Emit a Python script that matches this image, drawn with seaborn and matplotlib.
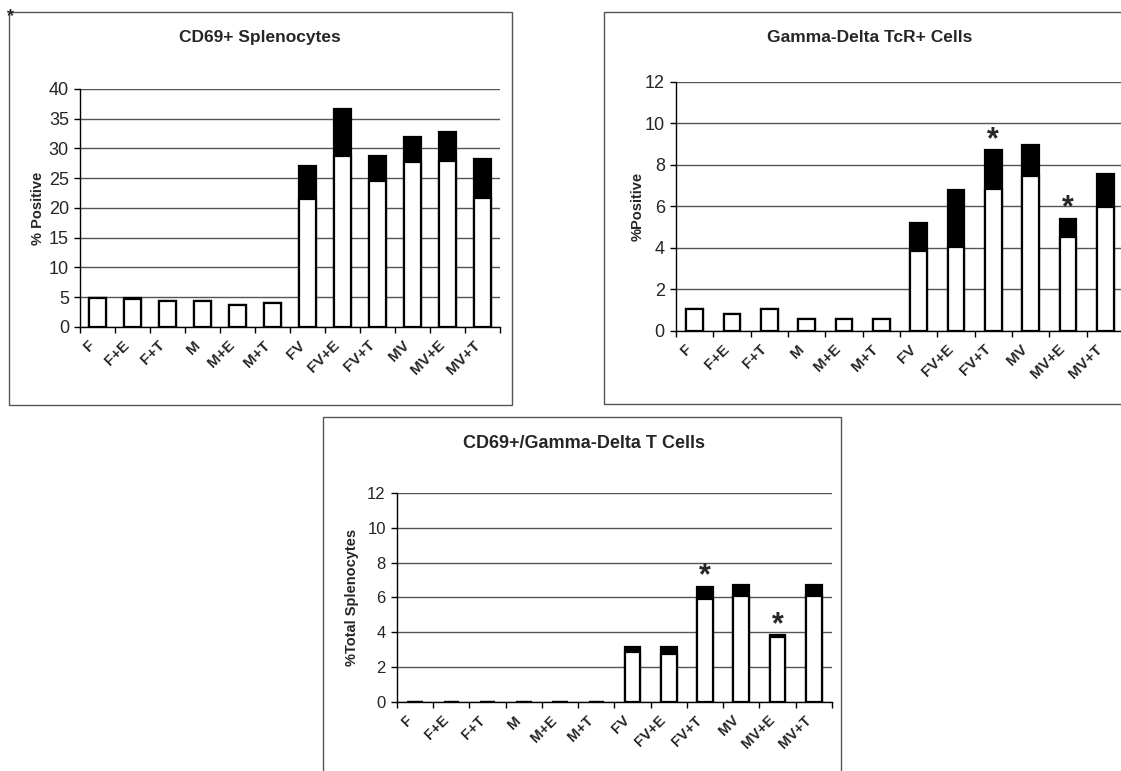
import matplotlib
matplotlib.use("Agg")
import matplotlib.pyplot as plt
import seaborn as sns
import pandas as pd
from matplotlib.patches import Rectangle

categories = ["F", "F+E", "F+T", "M", "M+E", "M+T",
              "FV", "FV+E", "FV+T", "MV", "MV+E", "MV+T"]

cd69_white = [4.9, 4.75, 4.3, 4.3, 3.65, 4.1, 21.5, 28.8, 24.5, 27.8, 27.9, 21.6]
cd69_total = [4.9, 4.85, 4.3, 4.3, 3.65, 4.1, 27.1, 36.7, 28.8, 32.0, 32.8, 28.3]

gd_white = [1.08, 0.8, 1.08, 0.59, 0.59, 0.59, 3.86, 4.07, 6.86, 7.47, 4.55, 5.98]
gd_total = [1.08, 0.8, 1.08, 0.59, 0.59, 0.59, 5.2, 6.78, 8.73, 8.97, 5.41, 7.55]

dbl_white = [0, 0, 0, 0, 0, 0, 2.88, 2.75, 5.89, 6.09, 3.71, 6.09]
dbl_total = [0, 0, 0, 0, 0, 0, 3.13, 3.13, 6.62, 6.72, 3.82, 6.72]

gd_stars = ["FV+T", "MV+E"]
dbl_stars = ["FV+T", "MV+E"]

titles = ["CD69+ Splenocytes", "Gamma-Delta TcR+ Cells", "CD69+/Gamma-Delta T Cells"]
ylabels = ["% Positive", "%Positive", "%Total Splenocytes"]

sns.set_style("white")
plt.rcParams["font.family"] = ["Liberation Sans", "DejaVu Sans"]

fig = plt.figure(figsize=(11.21, 7.71), dpi=100)

# panel frames (figure coordinates)
frames = [
    (0.008, 0.4747, 0.4487, 0.5097),
    (0.5388, 0.476, 0.47, 0.5084),
    (0.2881, -0.01, 0.4621, 0.469),
]
for fx, fy, fw, fh in frames:
    fig.add_artist(Rectangle((fx, fy), fw, fh, transform=fig.transFigure,
                             fill=False, edgecolor="#555555", linewidth=1.0))

axes_pos = [
    (0.0714, 0.5759, 0.3747, 0.3087),
    (0.603, 0.5707, 0.3996, 0.3230),
    (0.3541, 0.0895, 0.3880, 0.2711),
]
title_pos = [(0.232, 0.952), (0.776, 0.952), (0.521, 0.4254)]
title_size = [12.5, 12.5, 13]
ytick_size = [13, 13, 12]
xtick_size = [11, 11, 10.5]
ylabel_x = [-0.083, -0.071, -0.087]
ymax = [40, 12, 12]
ystep = [5, 2, 2]
widths = [0.48, 0.45, 0.43]
panels = [(cd69_white, cd69_total, []),
          (gd_white, gd_total, gd_stars),
          (dbl_white, dbl_total, dbl_stars)]

for i, (white, total, stars) in enumerate(panels):
    ax = fig.add_axes(axes_pos[i])
    df = pd.DataFrame({"group": categories, "white": white, "total": total})
    sns.barplot(data=df, x="group", y="total", order=categories, color="black",
                edgecolor="black", linewidth=1.6, width=widths[i], saturation=1,
                errorbar=None, ax=ax)
    sns.barplot(data=df, x="group", y="white", order=categories, color="white",
                edgecolor="black", linewidth=1.6, width=widths[i], saturation=1,
                errorbar=None, ax=ax)
    ax.set_xlim(-0.5, len(categories) - 0.5)
    ax.set_ylim(0, ymax[i])
    ax.set_yticks(list(range(0, ymax[i] + 1, ystep[i])))
    ax.yaxis.grid(True, color="#555555", linewidth=1.0)
    ax.set_axisbelow(True)
    for s in ["top", "right"]:
        ax.spines[s].set_visible(False)
    for s in ["left", "bottom"]:
        ax.spines[s].set_color("black")
        ax.spines[s].set_linewidth(1.0)
    # ticks at category boundaries, labels at centers
    ax.set_xticks([k - 0.5 for k in range(len(categories) + 1)])
    ax.set_xticklabels([])
    ax.set_xticks(range(len(categories)), minor=True)
    ax.set_xticklabels(categories, minor=True, rotation=45, ha="right",
                       va="top", fontweight="bold", fontsize=xtick_size[i])
    ax.tick_params(axis="x", which="major", direction="out", length=4,
                   width=1, color="black", bottom=True)
    ax.tick_params(axis="x", which="minor", length=0, pad=8)
    ax.tick_params(axis="y", direction="out", length=4, width=1,
                   color="black", left=True, labelsize=ytick_size[i], pad=4)
    ax.set_xlabel("")
    ax.set_ylabel(ylabels[i], fontweight="bold", fontsize=10.5)
    ax.yaxis.set_label_coords(ylabel_x[i], 0.5)
    fig.text(title_pos[i][0], title_pos[i][1], titles[i], ha="center",
             va="center", fontweight="bold", fontsize=title_size[i])
    for name in stars:
        k = categories.index(name)
        ax.annotate("*", xy=(k, total[k]), xytext=(0, -5),
                    textcoords="offset pixels", ha="center", va="bottom",
                    fontsize=22, fontweight="bold")

fig.text(0.006, 0.99, "*", ha="left", va="top", fontsize=13, fontweight="bold")

fig.savefig("out.png", dpi=100)
